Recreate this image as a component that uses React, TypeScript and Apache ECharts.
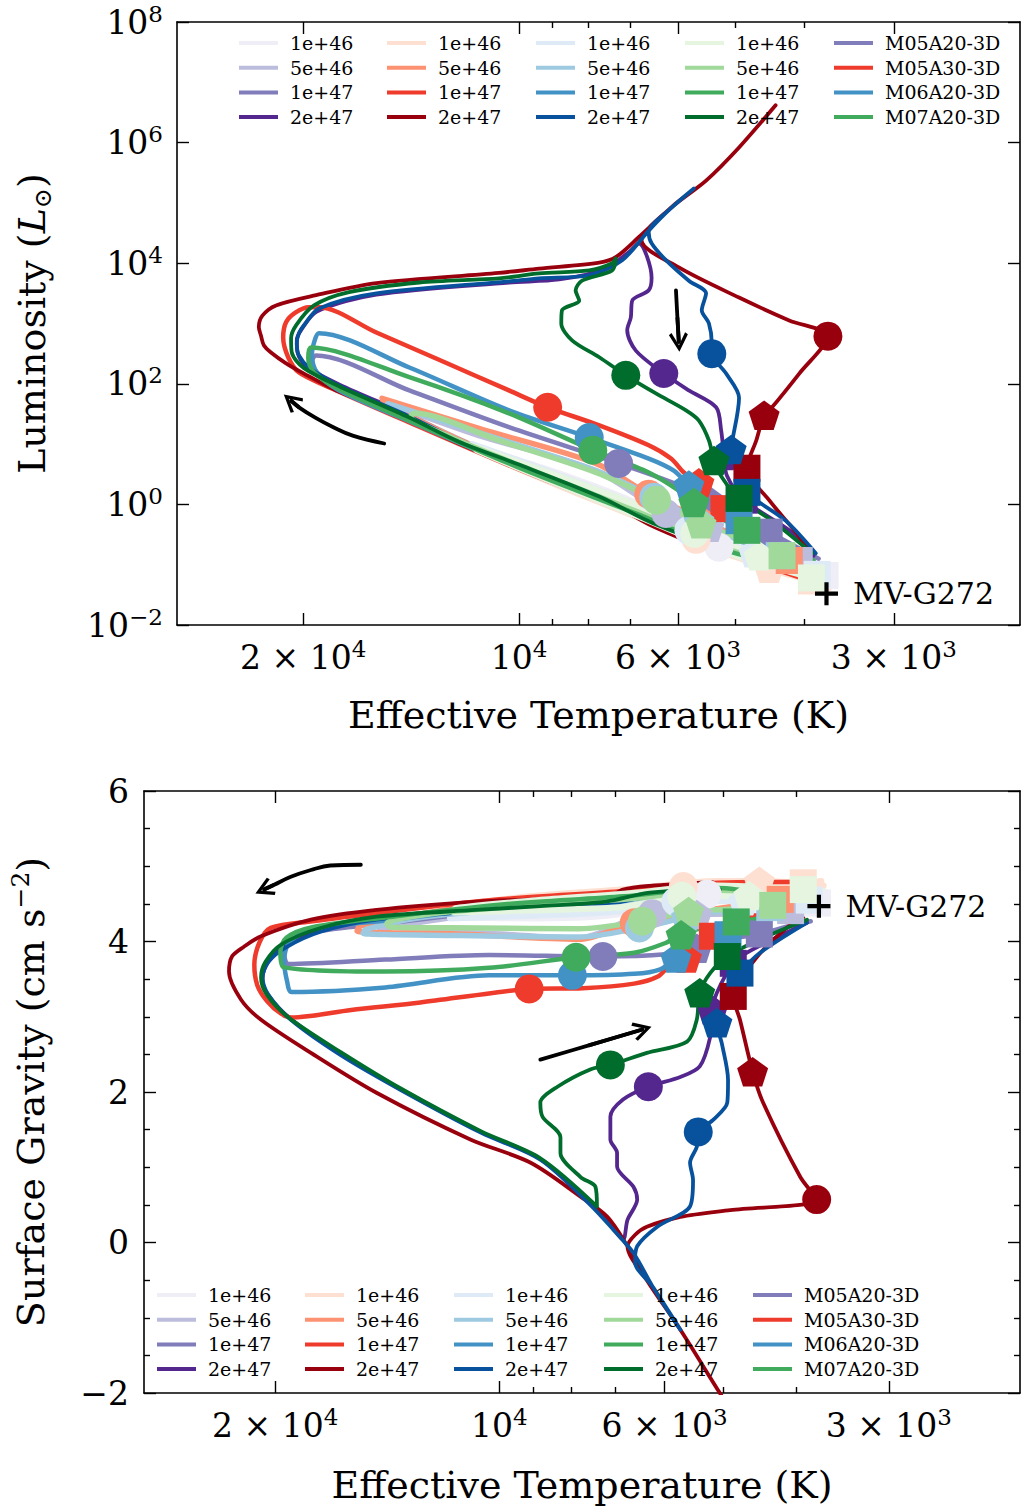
import React, { useEffect, useRef } from 'react';
import * as echarts from 'echarts';

const FONT = 'DejaVu Serif';

// Temperature axis (K): plotted range and tick positions
const TEFF_LIMITS = [2000, 30000];
const TEFF_MAJOR = [20000, 10000, 6000, 3000];
const TEFF_MAJOR_LABELS = ['{b|2 × 10}{sup|4}', '{b|10}{sup|4}', '{b|6 × 10}{sup|3}', '{b|3 × 10}{sup|3}'];
const TEFF_MINOR = [9000, 8000, 7000, 5000, 4000];

// log10 luminosity (L_sun) and log10 surface gravity (cgs) limits
const LOGL_LIMITS = [-2, 8];
const LOGG_LIMITS = [-2, 6];

const ENERGIES = ['1e+46', '5e+46', '1e+47', '2e+47'];
const MODELS = ['M05A20', 'M05A30', 'M06A20', 'M07A20'];
const MODELS_3D = ['M05A20-3D', 'M05A30-3D', 'M06A20-3D', 'M07A20-3D'];
const PURPLES = ['#efedf5', '#bcbddc', '#807dba', '#54278f'];
const REDS = ['#fee0d2', '#fc9272', '#ef3b2c', '#99000d'];
const BLUES = ['#deebf7', '#9ecae1', '#4292c6', '#08519c'];
const GREENS = ['#e5f5e0', '#a1d99b', '#41ab5d', '#006d2c'];
const COLORS_3D = ['#807dba', '#ef3b2c', '#4292c6', '#41ab5d'];
const LINE_WIDTHS = [6.5, 5.5, 4.5, 3.8];

// Observed star: [log Teff, log L] and [log Teff, log g]
const MVG272_HR = [3.571, -1.48];
const MVG272_G = [3.571, 4.47];

// Tracks: [log10 Teff, log10 L/Lsun] and [log10 Teff, log10 g]
// *_MARKS hold the circle, pentagon and square epochs along each track
const M05A20_1E46_HR = [[3.559,-1.23],[3.707,-0.76],[3.833,-0.17],[3.944,0.36],[4.056,0.90],[4.059,0.95],[3.944,0.51],[3.833,0.00],[3.721,-0.71],[3.651,-0.93],[3.573,-1.18],[3.559,-1.23]];
const M05A20_1E46_HR_MARKS = [[3.721,-0.71],[3.651,-0.93],[3.573,-1.18]];
const M05A20_1E46_G = [[3.559,4.51],[3.707,4.63],[3.833,4.54],[3.944,4.46],[4.056,4.36],[4.059,4.33],[3.944,4.31],[3.833,4.37],[3.721,4.63],[3.651,4.57],[3.573,4.51],[3.559,4.51]];
const M05A20_1E46_G_MARKS = [[3.721,4.63],[3.651,4.57],[3.573,4.51]];

const M05A20_5E46_HR = [[3.575,-1.13],[3.707,-0.75],[3.833,-0.13],[4.000,0.65],[4.098,1.16],[4.160,1.53],[4.163,1.59],[4.056,1.14],[3.893,0.56],[3.795,-0.15],[3.735,-0.38],[3.609,-0.93],[3.570,-1.18]];
const M05A20_5E46_HR_MARKS = [[3.795,-0.15],[3.735,-0.38],[3.609,-0.93]];
const M05A20_5E46_G = [[3.575,4.47],[3.707,4.62],[3.833,4.50],[4.000,4.39],[4.098,4.27],[4.160,4.15],[4.163,4.10],[4.056,4.12],[3.893,4.05],[3.795,4.37],[3.735,4.36],[3.609,4.41],[3.570,4.50]];
const M05A20_5E46_G_MARKS = [[3.795,4.37],[3.735,4.36],[3.609,4.41]];

const M05A20_1E47_HR = [[3.589,-1.09],[3.707,-0.76],[3.833,-0.15],[4.000,0.63],[4.153,1.41],[4.251,1.92],[4.282,2.19],[4.289,2.36],[4.283,2.47],[4.153,1.89],[4.014,1.28],[3.861,0.68],[3.777,0.32],[3.735,0.07],[3.693,-0.18],[3.651,-0.46],[3.609,-0.73],[3.582,-0.90]];
const M05A20_1E47_HR_MARKS = [[3.861,0.68],[3.735,0.07],[3.651,-0.46]];
const M05A20_1E47_G = [[3.589,4.49],[3.707,4.63],[3.833,4.52],[4.000,4.41],[4.153,4.24],[4.251,4.12],[4.282,3.98],[4.289,3.84],[4.283,3.70],[4.153,3.76],[4.014,3.82],[3.861,3.80],[3.777,3.83],[3.735,3.91],[3.693,4.03],[3.651,4.10],[3.609,4.21],[3.582,4.27]];
const M05A20_1E47_G_MARKS = [[3.861,3.80],[3.735,3.91],[3.651,4.10]];

const M05A20_2E47_HR = [[3.724,-0.71],[3.749,-0.58],[3.819,-0.25],[3.888,0.17],[4.000,0.70],[4.084,1.08],[4.153,1.48],[4.251,1.99],[4.297,2.29],[4.309,2.52],[4.310,2.72],[4.304,2.89],[4.282,3.20],[4.199,3.48],[4.014,3.68],[3.944,3.73],[3.881,3.90],[3.847,4.18],[3.833,4.33],[3.815,3.76],[3.819,3.55],[3.842,3.38],[3.844,3.10],[3.849,2.89],[3.837,2.55],[3.798,2.17],[3.763,1.89],[3.725,1.61],[3.718,1.23],[3.714,0.81],[3.710,0.48],[3.686,0.07],[3.623,-0.43],[3.589,-0.85]];
const M05A20_2E47_HR_MARKS = [[3.798,2.17],[3.714,0.81],[3.686,0.07]];
const M05A20_2E47_G = [[3.724,4.65],[3.798,4.62],[3.857,4.52],[3.945,4.46],[4.031,4.41],[4.165,4.30],[4.240,4.16],[4.290,3.93],[4.311,3.72],[4.318,3.50],[4.310,3.28],[4.280,2.97],[4.213,2.51],[4.133,2.04],[4.025,1.47],[3.945,1.11],[3.878,0.53],[3.851,0.24],[3.834,0.04],[3.828,0.30],[3.815,0.57],[3.820,0.74],[3.842,1.01],[3.842,1.19],[3.851,1.37],[3.851,1.67],[3.834,1.90],[3.800,2.07],[3.757,2.20],[3.731,2.34],[3.717,2.73],[3.714,3.09],[3.708,3.32],[3.686,3.71],[3.668,3.85],[3.587,4.25]];
const M05A20_2E47_G_MARKS = [[3.800,2.07],[3.714,3.09],[3.686,3.71]];

const M05A30_1E46_HR = [[3.565,-1.34],[3.707,-0.83],[3.833,-0.22],[3.944,0.31],[4.070,0.95],[4.072,1.00],[3.944,0.43],[3.833,-0.10],[3.753,-0.58],[3.651,-1.06],[3.592,-1.27],[3.568,-1.39]];
const M05A30_1E46_HR_MARKS = [[3.753,-0.58],[3.651,-1.06],[3.592,-1.27]];
const M05A30_1E46_G = [[3.565,4.74],[3.707,4.80],[3.833,4.69],[3.944,4.61],[4.070,4.47],[4.072,4.43],[3.944,4.49],[3.833,4.57],[3.753,4.73],[3.651,4.80],[3.592,4.78],[3.568,4.80]];
const M05A30_1E46_G_MARKS = [[3.753,4.73],[3.651,4.80],[3.592,4.78]];

const M05A30_5E46_HR = [[3.570,-1.21],[3.707,-0.78],[3.833,-0.17],[4.000,0.63],[4.112,1.23],[4.188,1.69],[4.191,1.76],[4.056,1.26],[3.893,0.68],[3.819,0.17],[3.749,-0.23],[3.693,-0.55],[3.623,-0.93],[3.584,-1.18]];
const M05A30_5E46_HR_MARKS = [[3.819,0.17],[3.749,-0.23],[3.623,-0.93]];
const M05A30_5E46_G = [[3.570,4.63],[3.707,4.75],[3.833,4.64],[4.000,4.51],[4.112,4.36],[4.188,4.20],[4.191,4.14],[4.056,4.10],[3.893,4.03],[3.819,4.25],[3.749,4.37],[3.693,4.46],[3.623,4.56],[3.584,4.66]];
const M05A30_5E46_G_MARKS = [[3.819,4.25],[3.749,4.37],[3.623,4.56]];

const M05A30_1E47_HR = [[3.609,-1.21],[3.707,-0.81],[3.833,-0.20],[4.000,0.58],[4.153,1.36],[4.251,1.87],[4.307,2.19],[4.322,2.44],[4.329,2.77],[4.325,3.02],[4.312,3.18],[4.293,3.27],[4.279,3.27],[4.199,2.85],[4.106,2.37],[4.014,1.89],[3.960,1.61],[3.888,1.31],[3.819,0.98],[3.788,0.76],[3.770,0.53],[3.749,0.36],[3.728,0.10],[3.714,-0.07],[3.665,-0.51],[3.609,-1.01],[3.575,-1.26]];
const M05A30_1E47_HR_MARKS = [[3.960,1.61],[3.749,0.36],[3.714,-0.07]];
const M05A30_1E47_G = [[3.609,4.79],[3.707,4.78],[3.833,4.67],[4.000,4.56],[4.153,4.39],[4.251,4.27],[4.307,4.18],[4.322,3.99],[4.329,3.69],[4.325,3.42],[4.312,3.21],[4.293,3.04],[4.279,2.99],[4.199,3.09],[4.106,3.19],[4.014,3.31],[3.960,3.37],[3.888,3.38],[3.819,3.44],[3.788,3.53],[3.770,3.69],[3.749,3.78],[3.728,3.95],[3.714,4.07],[3.665,4.31],[3.609,4.59],[3.575,4.70]];
const M05A30_1E47_G_MARKS = [[3.960,3.37],[3.749,3.78],[3.714,4.07]];

const M05A30_2E47_HR = [[3.711,-0.85],[3.749,-0.68],[3.777,-0.55],[3.819,-0.33],[3.861,-0.05],[3.888,0.10],[3.944,0.35],[4.000,0.61],[4.084,1.01],[4.153,1.39],[4.209,1.67],[4.255,1.89],[4.300,2.17],[4.325,2.34],[4.346,2.52],[4.356,2.64],[4.360,2.80],[4.363,2.94],[4.358,3.13],[4.339,3.30],[4.283,3.47],[4.199,3.67],[4.028,3.84],[3.972,3.91],[3.888,4.01],[3.865,4.10],[3.833,4.43],[3.787,4.93],[3.739,5.37],[3.693,5.92],[3.642,6.62],[3.693,5.92],[3.739,5.37],[3.787,4.93],[3.829,4.38],[3.777,3.93],[3.693,3.43],[3.623,3.05],[3.569,2.79],[3.609,2.17],[3.647,1.61],[3.658,1.48],[3.669,1.06],[3.682,0.60],[3.651,0.07],[3.616,-0.43],[3.593,-0.80]];
const M05A30_2E47_HR_MARKS = [[3.569,2.79],[3.658,1.48],[3.682,0.60]];
const M05A30_2E47_G = [[3.714,4.79],[3.798,4.74],[3.834,4.69],[3.857,4.57],[3.945,4.56],[4.031,4.53],[4.165,4.42],[4.253,4.29],[4.320,4.07],[4.343,3.93],[4.359,3.80],[4.363,3.60],[4.347,3.23],[4.320,2.96],[4.253,2.52],[4.165,1.99],[4.039,1.37],[3.958,1.06],[3.891,0.61],[3.855,0.34],[3.828,-0.05],[3.802,-0.50],[3.757,-1.16],[3.704,-2.00],[3.642,-2.96],[3.704,-2.00],[3.757,-1.16],[3.802,-0.50],[3.828,-0.05],[3.818,0.10],[3.802,0.21],[3.757,0.34],[3.690,0.43],[3.574,0.57],[3.596,0.87],[3.646,1.86],[3.660,2.27],[3.677,2.96],[3.686,3.27],[3.657,3.76],[3.617,4.16],[3.592,4.32]];
const M05A30_2E47_G_MARKS = [[3.574,0.57],[3.660,2.27],[3.686,3.27]];

const M06A20_1E46_HR = [[3.563,-1.26],[3.707,-0.80],[3.833,-0.18],[3.944,0.35],[4.063,0.95],[4.066,1.00],[3.944,0.48],[3.833,-0.03],[3.763,-0.43],[3.672,-0.80],[3.584,-1.16],[3.562,-1.24]];
const M06A20_1E46_HR_MARKS = [[3.763,-0.43],[3.672,-0.80],[3.584,-1.16]];
const M06A20_1E46_G = [[3.563,4.56],[3.707,4.68],[3.833,4.56],[3.944,4.48],[4.063,4.35],[4.066,4.31],[3.944,4.35],[3.833,4.41],[3.763,4.53],[3.672,4.54],[3.584,4.55],[3.562,4.54]];
const M06A20_1E46_G_MARKS = [[3.763,4.53],[3.672,4.54],[3.584,4.55]];

const M06A20_5E46_HR = [[3.575,-1.18],[3.707,-0.75],[3.833,-0.15],[4.000,0.63],[4.112,1.19],[4.179,1.61],[4.183,1.67],[4.056,1.19],[3.893,0.56],[3.812,0.12],[3.749,-0.27],[3.693,-0.60],[3.637,-0.85],[3.579,-1.09]];
const M06A20_5E46_HR_MARKS = [[3.812,0.12],[3.749,-0.27],[3.637,-0.85]];
const M06A20_5E46_G = [[3.575,4.53],[3.707,4.63],[3.833,4.53],[4.000,4.42],[4.112,4.31],[4.179,4.16],[4.183,4.11],[4.056,4.08],[3.893,4.06],[3.812,4.18],[3.749,4.32],[3.693,4.42],[3.637,4.45],[3.579,4.46]];
const M06A20_5E46_G_MARKS = [[3.812,4.18],[3.749,4.32],[3.637,4.45]];

const M06A20_1E47_HR = [[3.603,-1.13],[3.707,-0.80],[3.833,-0.18],[4.000,0.60],[4.153,1.38],[4.251,1.89],[4.282,2.19],[4.289,2.47],[4.285,2.72],[4.279,2.84],[4.153,2.27],[4.014,1.56],[3.902,1.11],[3.819,0.76],[3.784,0.56],[3.763,0.32],[3.735,0.07],[3.693,-0.27],[3.651,-0.60],[3.596,-0.96]];
const M06A20_1E47_HR_MARKS = [[3.902,1.11],[3.763,0.32],[3.693,-0.27]];
const M06A20_1E47_G = [[3.603,4.59],[3.707,4.68],[3.833,4.56],[4.000,4.45],[4.153,4.28],[4.251,4.16],[4.282,3.99],[4.289,3.74],[4.285,3.47],[4.279,3.33],[4.153,3.39],[4.014,3.55],[3.902,3.55],[3.819,3.57],[3.784,3.63],[3.763,3.78],[3.735,3.92],[3.693,4.09],[3.651,4.25],[3.596,4.39]];
const M06A20_1E47_G_MARKS = [[3.902,3.55],[3.763,3.78],[3.693,4.09]];

const M06A20_2E47_HR = [[3.718,-0.73],[3.749,-0.60],[3.819,-0.27],[3.888,0.15],[4.000,0.68],[4.084,1.06],[4.153,1.46],[4.251,1.97],[4.293,2.27],[4.307,2.47],[4.310,2.67],[4.307,2.84],[4.300,2.97],[4.279,3.25],[4.199,3.50],[4.014,3.70],[3.972,3.75],[3.902,3.80],[3.856,4.05],[3.819,4.54],[3.791,4.88],[3.756,5.24],[3.791,4.88],[3.819,4.51],[3.815,4.33],[3.795,4.05],[3.763,3.71],[3.739,3.50],[3.745,3.22],[3.735,3.00],[3.731,2.67],[3.731,2.50],[3.711,2.17],[3.693,1.77],[3.703,1.01],[3.704,0.91],[3.693,0.56],[3.682,0.20],[3.628,-0.27],[3.586,-0.81]];
const M06A20_2E47_HR_MARKS = [[3.731,2.50],[3.704,0.91],[3.682,0.20]];
const M06A20_2E47_G = [[3.718,4.65],[3.798,4.60],[3.857,4.49],[3.945,4.45],[4.031,4.40],[4.165,4.29],[4.240,4.13],[4.287,3.92],[4.310,3.73],[4.318,3.52],[4.310,3.29],[4.280,2.96],[4.213,2.49],[4.133,2.03],[4.025,1.46],[3.945,1.10],[3.878,0.50],[3.847,0.17],[3.820,-0.14],[3.794,-0.59],[3.757,-1.16],[3.794,-0.59],[3.818,-0.26],[3.815,-0.05],[3.788,0.21],[3.744,0.48],[3.740,0.83],[3.744,1.06],[3.735,1.27],[3.733,1.47],[3.713,1.63],[3.694,1.86],[3.693,2.16],[3.701,2.63],[3.708,2.92],[3.697,3.29],[3.677,3.58],[3.650,3.85],[3.587,4.25]];
const M06A20_2E47_G_MARKS = [[3.733,1.47],[3.708,2.92],[3.677,3.58]];

const M07A20_1E46_HR = [[3.561,-1.31],[3.707,-0.81],[3.833,-0.20],[3.944,0.33],[4.059,0.90],[4.061,0.95],[3.944,0.46],[3.833,-0.03],[3.755,-0.48],[3.665,-0.85],[3.592,-1.22],[3.565,-1.31]];
const M07A20_1E46_HR_MARKS = [[3.755,-0.48],[3.665,-0.85],[3.592,-1.22]];
const M07A20_1E46_G = [[3.561,4.65],[3.707,4.74],[3.833,4.63],[3.944,4.55],[4.059,4.44],[4.061,4.39],[3.944,4.42],[3.833,4.46],[3.755,4.60],[3.665,4.61],[3.592,4.69],[3.565,4.67]];
const M07A20_1E46_G_MARKS = [[3.755,4.60],[3.665,4.61],[3.592,4.69]];

const M07A20_5E46_HR = [[3.568,-1.23],[3.707,-0.75],[3.833,-0.13],[4.000,0.65],[4.098,1.13],[4.151,1.46],[4.146,1.51],[4.028,1.06],[3.893,0.53],[3.808,0.07],[3.746,-0.32],[3.693,-0.56],[3.633,-0.85],[3.575,-1.13]];
const M07A20_5E46_HR_MARKS = [[3.808,0.07],[3.746,-0.32],[3.633,-0.85]];
const M07A20_5E46_G = [[3.568,4.60],[3.707,4.68],[3.833,4.56],[4.000,4.45],[4.098,4.36],[4.151,4.24],[4.146,4.19],[4.028,4.18],[3.893,4.17],[3.808,4.27],[3.746,4.40],[3.693,4.43],[3.633,4.48],[3.575,4.53]];
const M07A20_5E46_G_MARKS = [[3.808,4.27],[3.746,4.40],[3.633,4.48]];

const M07A20_1E47_HR = [[3.596,-1.06],[3.707,-0.78],[3.833,-0.17],[4.000,0.61],[4.153,1.39],[4.251,1.91],[4.286,2.19],[4.294,2.42],[4.290,2.60],[4.153,2.11],[4.014,1.51],[3.897,0.90],[3.819,0.53],[3.777,0.23],[3.756,0.03],[3.721,-0.22],[3.682,-0.43],[3.637,-0.68],[3.589,-0.93]];
const M07A20_1E47_HR_MARKS = [[3.897,0.90],[3.756,0.03],[3.682,-0.43]];
const M07A20_1E47_G = [[3.596,4.54],[3.707,4.71],[3.833,4.60],[4.000,4.49],[4.153,4.32],[4.251,4.19],[4.286,4.05],[4.294,3.86],[4.290,3.66],[4.153,3.60],[4.014,3.65],[3.897,3.79],[3.819,3.85],[3.777,3.98],[3.756,4.09],[3.721,4.20],[3.682,4.26],[3.637,4.33],[3.589,4.39]];
const M07A20_1E47_G_MARKS = [[3.897,3.79],[3.756,4.09],[3.682,4.26]];

const M07A20_2E47_HR = [[3.714,-0.76],[3.749,-0.61],[3.819,-0.28],[3.888,0.13],[4.000,0.66],[4.084,1.04],[4.153,1.44],[4.251,1.96],[4.300,2.26],[4.317,2.52],[4.318,2.75],[4.311,2.97],[4.286,3.30],[4.237,3.52],[4.139,3.68],[4.028,3.75],[3.972,3.83],[3.902,3.88],[3.870,4.00],[3.865,4.08],[3.870,3.88],[3.912,3.71],[3.921,3.55],[3.916,3.38],[3.940,3.22],[3.941,3.00],[3.926,2.72],[3.888,2.44],[3.851,2.14],[3.809,1.84],[3.767,1.56],[3.749,1.39],[3.735,1.06],[3.728,0.73],[3.717,0.45],[3.693,0.10],[3.647,-0.27],[3.591,-0.81]];
const M07A20_2E47_HR_MARKS = [[3.851,2.14],[3.728,0.73],[3.693,0.10]];
const M07A20_2E47_G = [[3.704,4.69],[3.798,4.65],[3.857,4.53],[3.945,4.47],[4.031,4.42],[4.165,4.33],[4.240,4.18],[4.293,3.96],[4.314,3.73],[4.320,3.52],[4.312,3.29],[4.283,2.99],[4.213,2.53],[4.133,2.05],[4.025,1.48],[3.945,1.12],[3.869,0.48],[3.871,0.74],[3.891,0.87],[3.918,1.19],[3.918,1.40],[3.942,1.67],[3.945,1.86],[3.922,2.07],[3.878,2.30],[3.851,2.36],[3.802,2.52],[3.748,2.67],[3.735,2.96],[3.731,3.32],[3.717,3.58],[3.694,3.80],[3.650,4.03],[3.587,4.29]];
const M07A20_2E47_G_MARKS = [[3.851,2.36],[3.731,3.32],[3.694,3.80]];

// Direction arrows: shaft points (tail first) in data coordinates; the last two points set the head
const ARROWS_HR = [
  [[3.781, 3.55], [3.779, 3.10], [3.777, 2.69]],
  [[4.188, 1.01], [4.232, 1.14], [4.259, 1.28], [4.283, 1.43], [4.307, 1.61], [4.318, 1.72]],
];
const ARROWS_G = [
  [[4.186, 5.02], [4.227, 5.01], [4.253, 4.95], [4.280, 4.86], [4.303, 4.75], [4.316, 4.69]],
  [[3.945, 2.43], [3.880, 2.62], [3.808, 2.83]],
];

const TRACK_TABLE = {
  M05A20: [
    [M05A20_1E46_HR, M05A20_1E46_HR_MARKS, M05A20_1E46_G, M05A20_1E46_G_MARKS],
    [M05A20_5E46_HR, M05A20_5E46_HR_MARKS, M05A20_5E46_G, M05A20_5E46_G_MARKS],
    [M05A20_1E47_HR, M05A20_1E47_HR_MARKS, M05A20_1E47_G, M05A20_1E47_G_MARKS],
    [M05A20_2E47_HR, M05A20_2E47_HR_MARKS, M05A20_2E47_G, M05A20_2E47_G_MARKS],
  ],
  M05A30: [
    [M05A30_1E46_HR, M05A30_1E46_HR_MARKS, M05A30_1E46_G, M05A30_1E46_G_MARKS],
    [M05A30_5E46_HR, M05A30_5E46_HR_MARKS, M05A30_5E46_G, M05A30_5E46_G_MARKS],
    [M05A30_1E47_HR, M05A30_1E47_HR_MARKS, M05A30_1E47_G, M05A30_1E47_G_MARKS],
    [M05A30_2E47_HR, M05A30_2E47_HR_MARKS, M05A30_2E47_G, M05A30_2E47_G_MARKS],
  ],
  M06A20: [
    [M06A20_1E46_HR, M06A20_1E46_HR_MARKS, M06A20_1E46_G, M06A20_1E46_G_MARKS],
    [M06A20_5E46_HR, M06A20_5E46_HR_MARKS, M06A20_5E46_G, M06A20_5E46_G_MARKS],
    [M06A20_1E47_HR, M06A20_1E47_HR_MARKS, M06A20_1E47_G, M06A20_1E47_G_MARKS],
    [M06A20_2E47_HR, M06A20_2E47_HR_MARKS, M06A20_2E47_G, M06A20_2E47_G_MARKS],
  ],
  M07A20: [
    [M07A20_1E46_HR, M07A20_1E46_HR_MARKS, M07A20_1E46_G, M07A20_1E46_G_MARKS],
    [M07A20_5E46_HR, M07A20_5E46_HR_MARKS, M07A20_5E46_G, M07A20_5E46_G_MARKS],
    [M07A20_1E47_HR, M07A20_1E47_HR_MARKS, M07A20_1E47_G, M07A20_1E47_G_MARKS],
    [M07A20_2E47_HR, M07A20_2E47_HR_MARKS, M07A20_2E47_G, M07A20_2E47_G_MARKS],
  ],
};
const PALETTES = { M05A20: PURPLES, M05A30: REDS, M06A20: BLUES, M07A20: GREENS };

const PENTAGON = 'path://M50,0 L97.6,34.5 L79.4,90.5 L20.6,90.5 L2.4,34.5 Z';
const PLUS = 'path://M0,9 L22,9 L22,13 L0,13 Z M9,0 L13,0 L13,22 L9,22 Z';
const CHEVRON = 'path://M10,0 L20,17 L17.2,19 L10,6.5 L2.8,19 L0,17 Z';
const MARK_SYMBOLS = ['circle', PENTAGON, 'rect'];
const MARK_SIZES: any[] = [29, [31, 29.5], 27];

const lg = (v: number) => Math.log10(v);
const minus = (v: number) => (v < 0 ? '−' + Math.abs(v) : String(v));

const TICK_LINE = { color: '#000', width: 1.4 };
const FRAME = { show: true, onZero: false, lineStyle: { color: '#000', width: 1.6 } };
const LABEL_RICH = {
  b: { fontFamily: FONT, fontSize: 33, color: '#000', lineHeight: 40, verticalAlign: 'middle' },
  sup: { fontFamily: FONT, fontSize: 23, color: '#000', lineHeight: 22, verticalAlign: 'top' },
};

function teffLabel(v: number) {
  const i = TEFF_MAJOR.findIndex((t) => Math.abs(lg(t) - v) < 1e-4);
  return i >= 0 ? TEFF_MAJOR_LABELS[i] : '';
}

function teffAxes(gridIndex: number, nameGap: number) {
  const base = {
    type: 'value', gridIndex, min: lg(TEFF_LIMITS[0]), max: lg(TEFF_LIMITS[1]), inverse: true,
    splitLine: { show: false }, axisLine: FRAME,
  };
  const major = { show: true, inside: true, length: 12, lineStyle: TICK_LINE, customValues: TEFF_MAJOR.map(lg) };
  const minor = { show: true, inside: true, length: 6, lineStyle: TICK_LINE, customValues: TEFF_MINOR.map(lg) };
  return [
    {
      ...base, position: 'bottom', axisTick: major,
      axisLabel: { show: true, customValues: TEFF_MAJOR.map(lg), formatter: teffLabel, margin: 12, rich: LABEL_RICH },
      name: 'Effective Temperature (K)', nameLocation: 'middle', nameGap,
      nameTextStyle: { fontFamily: FONT, fontSize: 38, color: '#000' },
    },
    { ...base, position: 'bottom', axisLine: { show: false, onZero: false }, axisTick: minor, axisLabel: { show: false } },
    { ...base, position: 'top', axisTick: major, axisLabel: { show: false } },
    { ...base, position: 'top', axisLine: { show: false, onZero: false }, axisTick: minor, axisLabel: { show: false } },
  ];
}

function legendColumn(names: string[], left: number, top: number) {
  return {
    show: true, orient: 'vertical', left, top, padding: 0, itemGap: 4.7,
    itemWidth: 39, itemHeight: 4, icon: 'rect', selectedMode: false, data: names,
    formatter: (n: string) => (n.includes('|') ? n.split('|')[1] : n),
    textStyle: { fontFamily: FONT, fontSize: 19, color: '#000', lineHeight: 20, padding: [0, 0, 0, 7] },
  };
}

// Black annotation arrow: smooth shaft plus an open head on its last segment
function arrowSeries(xi: number, yi: number, pts: number[][]) {
  const n = pts.length;
  return {
    type: 'line', xAxisIndex: xi, yAxisIndex: yi, data: pts, silent: true, z: 6,
    showSymbol: false, symbol: 'none', smooth: 0.4,
    lineStyle: { color: '#000', width: 3.8, cap: 'round' },
    markLine: {
      silent: true, animation: false, symbol: ['none', CHEVRON], symbolSize: [19, 19],
      label: { show: false }, emphasis: { disabled: true },
      lineStyle: { color: '#000', width: 3.8, type: 'solid' },
      data: [[{ coord: pts[n - 2] }, { coord: pts[n - 1] }]],
    },
  };
}

function buildOption() {
  const grid = [
    { left: 177, top: 22, width: 843, height: 603 },
    { left: 143, top: 791, width: 877, height: 602 },
  ];
  const xAxis = [...teffAxes(0, 71), ...teffAxes(1, 73)];
  const yAxis = [
    {
      type: 'value', gridIndex: 0, position: 'left', min: LOGL_LIMITS[0], max: LOGL_LIMITS[1], interval: 2,
      axisLine: FRAME, splitLine: { show: false },
      axisTick: { show: true, inside: true, length: 12, lineStyle: TICK_LINE },
      axisLabel: { show: true, margin: 14, formatter: (v: number) => `{b|10}{sup|${minus(v)}}`, rich: LABEL_RICH },
      name: '{n|Luminosity (}{it|L}{sub|⊙}{n|)}', nameLocation: 'middle', nameGap: 122, nameRotate: 90,
      nameTextStyle: {
        fontFamily: FONT, fontSize: 38, color: '#000',
        rich: {
          n: { fontFamily: FONT, fontSize: 38, color: '#000', lineHeight: 46, verticalAlign: 'middle' },
          it: { fontFamily: FONT, fontSize: 38, fontStyle: 'italic', color: '#000', lineHeight: 46, verticalAlign: 'middle' },
          sub: { fontFamily: FONT, fontSize: 24, color: '#000', lineHeight: 26, verticalAlign: 'bottom' },
        },
      },
    },
    {
      type: 'value', gridIndex: 0, position: 'right', min: LOGL_LIMITS[0], max: LOGL_LIMITS[1], interval: 2,
      axisLine: FRAME, splitLine: { show: false },
      axisTick: { show: true, inside: true, length: 12, lineStyle: TICK_LINE }, axisLabel: { show: false },
    },
    {
      type: 'value', gridIndex: 1, position: 'left', min: LOGG_LIMITS[0], max: LOGG_LIMITS[1], interval: 2,
      axisLine: FRAME, splitLine: { show: false },
      axisTick: { show: true, inside: true, length: 12, lineStyle: TICK_LINE },
      minorTick: { show: true, splitNumber: 4, length: 6, lineStyle: TICK_LINE },
      axisLabel: { show: true, margin: 15, formatter: (v: number) => `{b|${minus(v)}}`, rich: LABEL_RICH },
      name: '{n|Surface Gravity (cm s}{sup|−2}{n|)}', nameLocation: 'middle', nameGap: 90, nameRotate: 90,
      nameTextStyle: {
        fontFamily: FONT, fontSize: 38, color: '#000',
        rich: {
          n: { fontFamily: FONT, fontSize: 38, color: '#000', lineHeight: 46, verticalAlign: 'middle' },
          sup: { fontFamily: FONT, fontSize: 25, color: '#000', lineHeight: 26, verticalAlign: 'top' },
        },
      },
    },
    {
      type: 'value', gridIndex: 1, position: 'right', min: LOGG_LIMITS[0], max: LOGG_LIMITS[1], interval: 2,
      axisLine: FRAME, splitLine: { show: false },
      axisTick: { show: true, inside: true, length: 12, lineStyle: TICK_LINE },
      minorTick: { show: true, splitNumber: 4, length: 6, lineStyle: TICK_LINE },
      axisLabel: { show: false },
    },
  ];

  const series: any[] = [];
  const panels = [
    { xi: 0, yi: 0, lineIdx: 0, markIdx: 1 },
    { xi: 4, yi: 2, lineIdx: 2, markIdx: 3 },
  ];
  MODELS.forEach((model) => {
    ENERGIES.forEach((energy, k) => {
      const color = PALETTES[model][k];
      const rows = TRACK_TABLE[model][k];
      const name = `${model}|${energy}`;
      panels.forEach((p) => {
        series.push({
          type: 'line', name, xAxisIndex: p.xi, yAxisIndex: p.yi, data: rows[p.lineIdx],
          showSymbol: false, symbol: 'none', color, silent: true, z: 2, smooth: 0.3,
          lineStyle: { color, width: LINE_WIDTHS[k], cap: 'round', join: 'round' },
        });
        series.push({
          type: 'scatter', name, xAxisIndex: p.xi, yAxisIndex: p.yi, silent: true, z: 2,
          data: rows[p.markIdx].map((v, i) => ({ value: v, symbol: MARK_SYMBOLS[i], symbolSize: MARK_SIZES[i] })),
          itemStyle: { color, opacity: 1 },
        });
      });
    });
  });
  MODELS_3D.forEach((name, i) => {
    series.push({ type: 'line', name, xAxisIndex: 0, yAxisIndex: 0, data: [], color: COLORS_3D[i], lineStyle: { color: COLORS_3D[i] } });
  });

  [[0, 0, MVG272_HR], [4, 2, MVG272_G]].forEach(([xi, yi, pt]: any) => {
    series.push({
      type: 'scatter', xAxisIndex: xi, yAxisIndex: yi, data: [pt], symbol: PLUS, symbolSize: 23, silent: true, z: 6,
      itemStyle: { color: '#000', opacity: 1 },
      label: { show: true, position: 'right', distance: 15, formatter: 'MV-G272', fontFamily: FONT, fontSize: 30, color: '#000' },
    });
  });

  ARROWS_HR.forEach((a) => series.push(arrowSeries(0, 0, a)));
  ARROWS_G.forEach((a) => series.push(arrowSeries(4, 2, a)));

  const colNames = (model: string) => ENERGIES.map((e) => `${model}|${e}`);
  const topLefts = [239, 387, 536, 685, 834];
  const bottomLefts = [157, 305, 454, 604, 753];
  const legend: any[] = [];
  [[topLefts, 33], [bottomLefts, 1285]].forEach(([lefts, top]: any) => {
    MODELS.forEach((m, i) => legend.push(legendColumn(colNames(m), lefts[i], top)));
    legend.push(legendColumn(MODELS_3D, lefts[4], top));
  });

  return {
    animation: false,
    backgroundColor: '#fff',
    textStyle: { fontFamily: FONT },
    grid, xAxis, yAxis, legend, series,
  };
}

export default function App() {
  const ref = useRef<HTMLDivElement>(null);
  useEffect(() => {
    if (!ref.current) return;
    const chart = echarts.init(ref.current, null, { renderer: 'svg' });
    chart.setOption(buildOption() as any);
    return () => chart.dispose();
  }, []);
  return <div ref={ref} style={{ position: 'absolute', left: 0, top: 0, width: 1021, height: 1511 }} />;
}
